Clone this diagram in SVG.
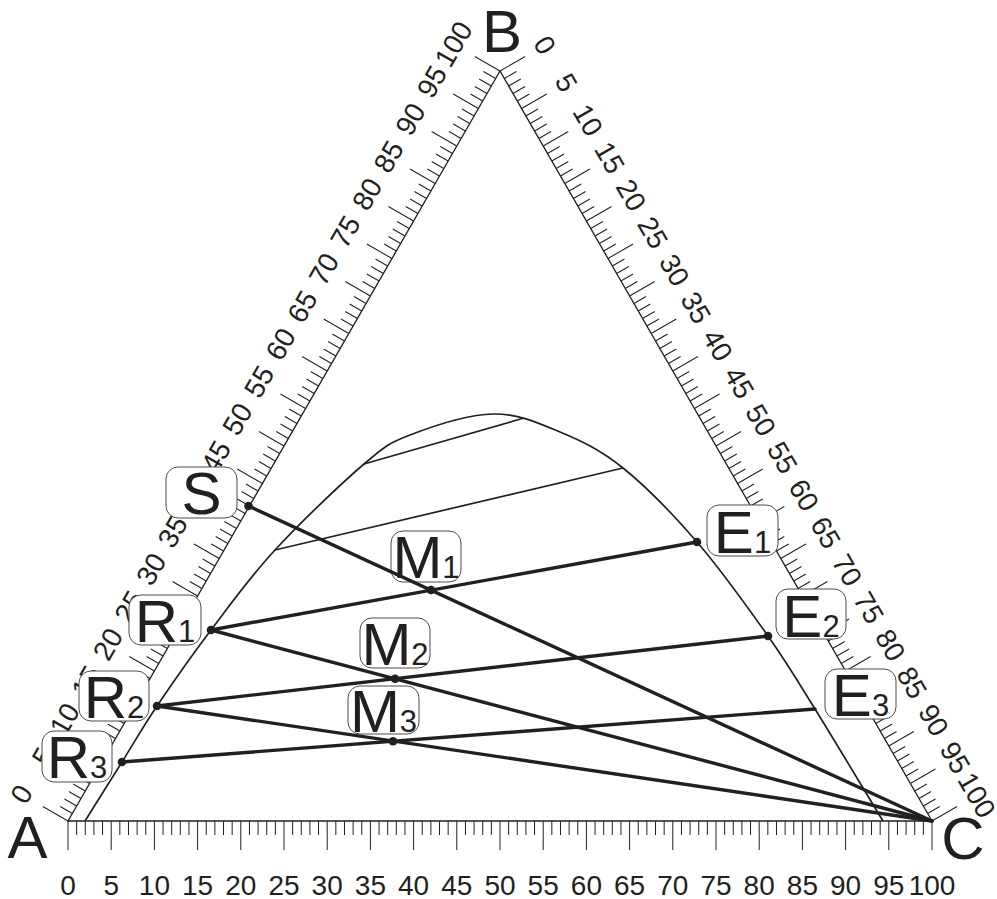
<svg xmlns="http://www.w3.org/2000/svg" width="997" height="899" viewBox="0 0 997 899">
<style>
.ax{fill:none;stroke:#231f20;stroke-width:1.3;stroke-linejoin:miter}
.tk{fill:none;stroke:#231f20;stroke-width:1}
.num{font-family:"Liberation Sans",Arial,sans-serif;font-size:28px;fill:#231f20;text-anchor:middle}
.big{font-family:"Liberation Sans",Arial,sans-serif;font-size:60px;fill:#231f20;text-anchor:middle}
.sub{font-size:31px}
.box{fill:#fff;stroke:#4d4d4d;stroke-width:1}
.thin{fill:none;stroke:#231f20;stroke-width:1.7}
.thick{fill:none;stroke:#231f20;stroke-width:3.4;stroke-linecap:round}
.dot{fill:#231f20}
</style>
<defs>
<path id="ticks" class="tk" d="M0 0v29m8.64-29v14m8.64-14v14m8.64-14v14m8.64-14v14m8.64-14v29m8.64-29v14m8.64-14v14m8.64-14v14m8.64-14v14m8.64-14v29m8.64-29v14m8.64-14v14m8.64-14v14m8.64-14v14m8.64-14v29m8.64-29v14m8.64-14v14m8.64-14v14m8.64-14v14m8.64-14v29m8.64-29v14m8.64-14v14m8.64-14v14m8.64-14v14m8.64-14v29m8.64-29v14m8.64-14v14m8.64-14v14m8.64-14v14m8.64-14v29m8.64-29v14m8.64-14v14m8.64-14v14m8.64-14v14m8.64-14v29m8.64-29v14m8.64-14v14m8.64-14v14m8.64-14v14m8.64-14v29m8.64-29v14m8.64-14v14m8.64-14v14m8.64-14v14m8.64-14v29m8.64-29v14m8.64-14v14m8.64-14v14m8.64-14v14m8.64-14v29m8.64-29v14m8.64-14v14m8.64-14v14m8.64-14v14m8.64-14v29m8.64-29v14m8.64-14v14m8.64-14v14m8.64-14v14m8.64-14v29m8.64-29v14m8.64-14v14m8.64-14v14m8.64-14v14m8.64-14v29m8.64-29v14m8.64-14v14m8.64-14v14m8.64-14v14m8.64-14v29m8.64-29v14m8.64-14v14m8.64-14v14m8.64-14v14m8.64-14v29m8.64-29v14m8.64-14v14m8.64-14v14m8.64-14v14m8.64-14v29m8.64-29v14m8.64-14v14m8.64-14v14m8.64-14v14m8.64-14v29m8.64-29v14m8.64-14v14m8.64-14v14m8.64-14v14m8.64-14v29m8.64-29v14m8.64-14v14m8.64-14v14m8.64-14v14m8.64-14v29m8.64-29v14m8.64-14v14m8.64-14v14m8.64-14v14m8.64-14v29"/>
</defs>
<rect width="997" height="899" fill="#fff"/>

<g id="scales">
<use href="#ticks" transform="translate(68,821)"/>
<use href="#ticks" transform="translate(68,821) rotate(-60.06) scale(1.0017,-1)"/>
<use href="#ticks" transform="translate(500,71) rotate(60.06) scale(1.0017,-1)"/>
<polygon class="ax" points="68,821 500,71 932,821"/>
<g id="bottom-labels">
<text class="num" x="68" y="894.5">0</text>
<text class="num" x="111.2" y="894.5">5</text>
<text class="num" x="154.4" y="894.5">10</text>
<text class="num" x="197.6" y="894.5">15</text>
<text class="num" x="240.8" y="894.5">20</text>
<text class="num" x="284" y="894.5">25</text>
<text class="num" x="327.2" y="894.5">30</text>
<text class="num" x="370.4" y="894.5">35</text>
<text class="num" x="413.6" y="894.5">40</text>
<text class="num" x="456.8" y="894.5">45</text>
<text class="num" x="500" y="894.5">50</text>
<text class="num" x="543.2" y="894.5">55</text>
<text class="num" x="586.4" y="894.5">60</text>
<text class="num" x="629.6" y="894.5">65</text>
<text class="num" x="672.8" y="894.5">70</text>
<text class="num" x="716" y="894.5">75</text>
<text class="num" x="759.2" y="894.5">80</text>
<text class="num" x="802.4" y="894.5">85</text>
<text class="num" x="845.6" y="894.5">90</text>
<text class="num" x="888.8" y="894.5">95</text>
<text class="num" x="932" y="894.5">100</text>
</g>
<g id="left-labels">
<text class="num" y="10" transform="translate(21.21 794.05) rotate(-60)">0</text>
<text class="num" y="10" transform="translate(42.81 756.55) rotate(-60)">5</text>
<text class="num" y="10" transform="translate(64.41 719.05) rotate(-60)">10</text>
<text class="num" y="10" transform="translate(86.01 681.55) rotate(-60)">15</text>
<text class="num" y="10" transform="translate(107.61 644.05) rotate(-60)">20</text>
<text class="num" y="10" transform="translate(129.21 606.55) rotate(-60)">25</text>
<text class="num" y="10" transform="translate(150.81 569.05) rotate(-60)">30</text>
<text class="num" y="10" transform="translate(172.41 531.55) rotate(-60)">35</text>
<text class="num" y="10" transform="translate(194.01 494.05) rotate(-60)">40</text>
<text class="num" y="10" transform="translate(215.61 456.55) rotate(-60)">45</text>
<text class="num" y="10" transform="translate(237.21 419.05) rotate(-60)">50</text>
<text class="num" y="10" transform="translate(258.81 381.55) rotate(-60)">55</text>
<text class="num" y="10" transform="translate(280.41 344.05) rotate(-60)">60</text>
<text class="num" y="10" transform="translate(302.01 306.55) rotate(-60)">65</text>
<text class="num" y="10" transform="translate(323.61 269.05) rotate(-60)">70</text>
<text class="num" y="10" transform="translate(345.21 231.55) rotate(-60)">75</text>
<text class="num" y="10" transform="translate(366.81 194.05) rotate(-60)">80</text>
<text class="num" y="10" transform="translate(388.41 156.55) rotate(-60)">85</text>
<text class="num" y="10" transform="translate(410.01 119.05) rotate(-60)">90</text>
<text class="num" y="10" transform="translate(431.61 81.55) rotate(-60)">95</text>
<text class="num" y="10" transform="translate(453.21 44.05) rotate(-60)">100</text>
</g>
<g id="right-labels">
<text class="num" y="10" transform="translate(545.06 45.05) rotate(60)">0</text>
<text class="num" y="10" transform="translate(566.66 82.55) rotate(60)">5</text>
<text class="num" y="10" transform="translate(588.26 120.05) rotate(60)">10</text>
<text class="num" y="10" transform="translate(609.86 157.55) rotate(60)">15</text>
<text class="num" y="10" transform="translate(631.46 195.05) rotate(60)">20</text>
<text class="num" y="10" transform="translate(653.06 232.55) rotate(60)">25</text>
<text class="num" y="10" transform="translate(674.66 270.05) rotate(60)">30</text>
<text class="num" y="10" transform="translate(696.26 307.55) rotate(60)">35</text>
<text class="num" y="10" transform="translate(717.86 345.05) rotate(60)">40</text>
<text class="num" y="10" transform="translate(739.46 382.55) rotate(60)">45</text>
<text class="num" y="10" transform="translate(761.06 420.05) rotate(60)">50</text>
<text class="num" y="10" transform="translate(782.66 457.55) rotate(60)">55</text>
<text class="num" y="10" transform="translate(804.26 495.05) rotate(60)">60</text>
<text class="num" y="10" transform="translate(825.86 532.55) rotate(60)">65</text>
<text class="num" y="10" transform="translate(847.46 570.05) rotate(60)">70</text>
<text class="num" y="10" transform="translate(869.06 607.55) rotate(60)">75</text>
<text class="num" y="10" transform="translate(890.66 645.05) rotate(60)">80</text>
<text class="num" y="10" transform="translate(912.26 682.55) rotate(60)">85</text>
<text class="num" y="10" transform="translate(933.86 720.05) rotate(60)">90</text>
<text class="num" y="10" transform="translate(955.46 757.55) rotate(60)">95</text>
<text class="num" y="10" transform="translate(977.06 795.05) rotate(60)">100</text>
</g>
</g>

<g id="vertex-A"><text class="big" x="27.5" y="858">A</text></g>
<g id="vertex-B"><text class="big" x="502" y="52">B</text></g>
<g id="vertex-C"><text class="big" x="963" y="859">C</text></g>

<g id="binodal-curve">
<path class="thin" d="M85 821C97.33 801.33 110 781.17 122 762C134 742.83 142.17 728 157 706C171.83 684 191.33 656 211 630C230.67 604 249.5 577.67 275 550C300.5 522.33 341.5 483.17 364 464C386.5 444.83 388.5 443.33 410 435C431.5 426.67 468 414.5 493 414C518 413.5 538.33 423 560 432C581.67 441 600.17 449.67 623 468C645.83 486.33 672.83 514 697 542C721.17 570 748.33 608.17 768 636C787.67 663.83 795.83 678.17 815 709C834.17 739.83 860.33 783.67 883 821"/>
</g>

<g id="node-S"><rect class="box" x="166" y="467" width="71" height="51" rx="12"/><text class="big" x="201.5" y="514">S</text><circle class="dot" cx="248.5" cy="506" r="4.3"/></g>
<g id="node-R1"><rect class="box" x="129" y="595" width="72" height="50" rx="12"/><text class="big" x="165" y="642">R<tspan class="sub">1</tspan></text><circle class="dot" cx="211" cy="630" r="4.3"/></g>
<g id="node-R2"><rect class="box" x="79" y="671" width="70" height="50" rx="12"/><text class="big" x="114" y="718">R<tspan class="sub">2</tspan></text><circle class="dot" cx="157" cy="706" r="4.3"/></g>
<g id="node-R3"><rect class="box" x="42" y="731" width="70" height="51" rx="12"/><text class="big" x="77" y="778">R<tspan class="sub">3</tspan></text><circle class="dot" cx="122" cy="762" r="4.3"/></g>
<g id="node-M1"><rect class="box" x="391" y="531" width="70" height="51" rx="12"/><text class="big" x="426" y="578">M<tspan class="sub">1</tspan></text><circle class="dot" cx="431" cy="590" r="4.3"/></g>
<g id="node-M2"><rect class="box" x="360" y="618" width="70" height="50" rx="12"/><text class="big" x="395" y="665">M<tspan class="sub">2</tspan></text><circle class="dot" cx="395" cy="678.7" r="4.3"/></g>
<g id="node-M3"><rect class="box" x="348" y="686" width="71" height="48" rx="12"/><text class="big" x="383.5" y="732">M<tspan class="sub">3</tspan></text><circle class="dot" cx="393" cy="741.3" r="4.3"/></g>
<g id="node-E1"><rect class="box" x="707" y="505" width="71" height="51" rx="12"/><text class="big" x="742.5" y="553">E<tspan class="sub">1</tspan></text><circle class="dot" cx="697" cy="542" r="4.3"/></g>
<g id="node-E2"><rect class="box" x="776" y="589" width="70" height="50" rx="12"/><text class="big" x="811" y="637">E<tspan class="sub">2</tspan></text><circle class="dot" cx="768" cy="636" r="4.3"/></g>
<g id="node-E3"><rect class="box" x="825" y="669" width="71" height="50" rx="12"/><text class="big" x="860.5" y="716">E<tspan class="sub">3</tspan></text></g>

<g id="connectors">
<line class="thin" x1="364" y1="464" x2="524" y2="418"/>
<line class="thin" x1="275" y1="550" x2="623" y2="468"/>
<line class="thick" x1="248.5" y1="506" x2="932" y2="821"/>
<line class="thick" x1="211" y1="630" x2="697" y2="542"/>
<line class="thick" x1="211" y1="630" x2="932" y2="821"/>
<line class="thick" x1="157" y1="706" x2="768" y2="636"/>
<line class="thick" x1="157" y1="706" x2="932" y2="821"/>
<line class="thick" x1="122" y1="762" x2="815" y2="709"/>
</g>
</svg>
